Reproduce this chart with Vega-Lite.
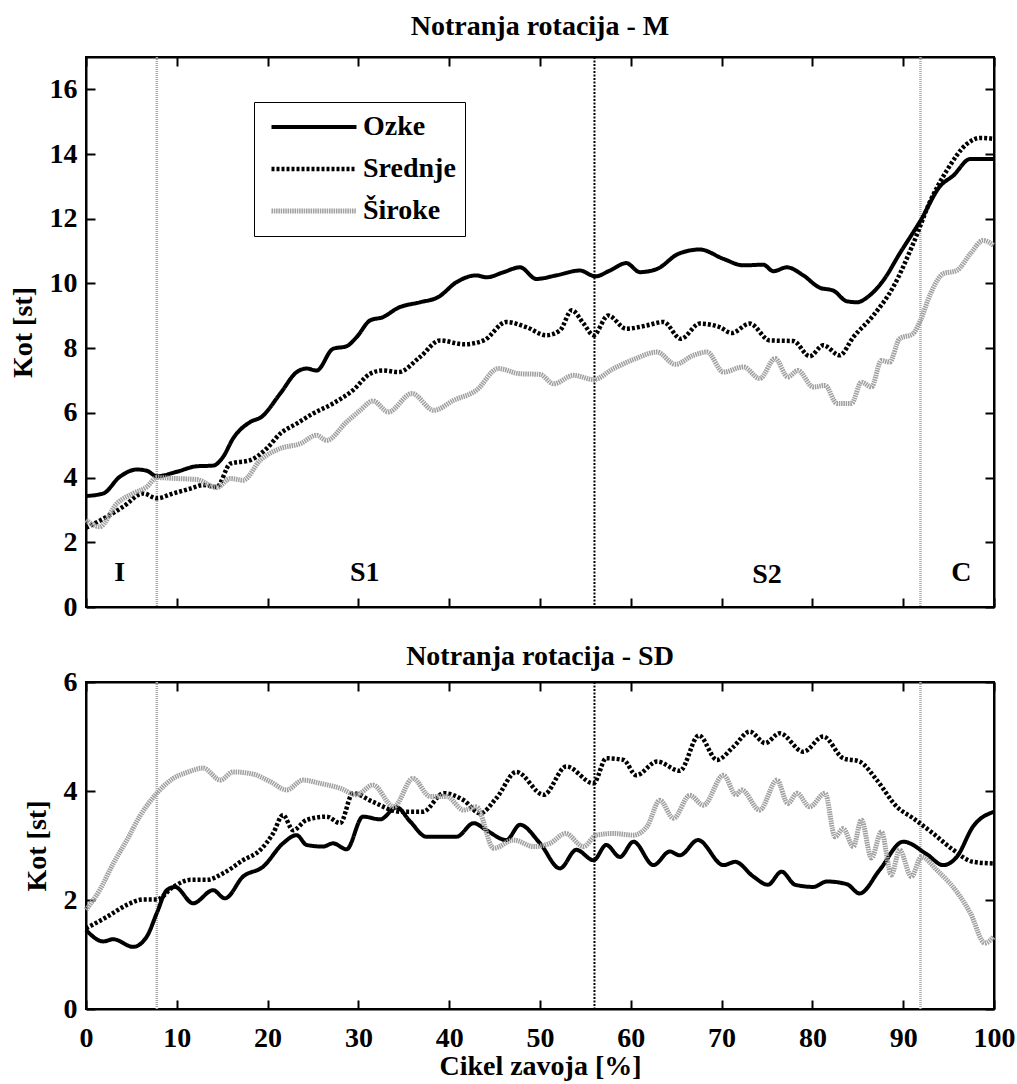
{
 "$schema": "https://vega.github.io/schema/vega-lite/v6.json",
 "background": "white",
 "padding": {"left": 8, "top": 11, "right": 5, "bottom": 5},
 "datasets": {
  "rulesGray": [{"x": 7.8}, {"x": 91.9}],
  "rulesBlack": [{"x": 56}],
  "labels": [{"t": "I", "x": 3.7, "y": 1.05}, {"t": "S1", "x": 30.7, "y": 1.05}, {"t": "S2", "x": 75, "y": 1.0}, {"t": "C", "x": 96.4, "y": 1.05}],
  "top": [
   {"s":"Ozke","x":0,"y":3.43},{"s":"Ozke","x":1.9,"y":3.51},{"s":"Ozke","x":3.7,"y":4.02},{"s":"Ozke","x":5.6,"y":4.25},{"s":"Ozke","x":6.7,"y":4.21},{"s":"Ozke","x":7.8,"y":4.04},{"s":"Ozke","x":10,"y":4.18},{"s":"Ozke","x":12.2,"y":4.35},{"s":"Ozke","x":14,"y":4.37},{"s":"Ozke","x":15.1,"y":4.64},{"s":"Ozke","x":16.2,"y":5.21},{"s":"Ozke","x":18.1,"y":5.72},{"s":"Ozke","x":19.3,"y":5.87},{"s":"Ozke","x":21.4,"y":6.6},{"s":"Ozke","x":23.2,"y":7.26},{"s":"Ozke","x":24.3,"y":7.37},{"s":"Ozke","x":25.4,"y":7.31},{"s":"Ozke","x":27.2,"y":7.98},{"s":"Ozke","x":28.7,"y":8.06},{"s":"Ozke","x":29.8,"y":8.34},{"s":"Ozke","x":31.3,"y":8.86},{"s":"Ozke","x":32.7,"y":8.96},{"s":"Ozke","x":34.4,"y":9.25},{"s":"Ozke","x":36.8,"y":9.42},{"s":"Ozke","x":38.8,"y":9.58},{"s":"Ozke","x":40.8,"y":10.04},{"s":"Ozke","x":43,"y":10.25},{"s":"Ozke","x":44.1,"y":10.19},{"s":"Ozke","x":46,"y":10.35},{"s":"Ozke","x":47.8,"y":10.5},{"s":"Ozke","x":49.6,"y":10.14},{"s":"Ozke","x":51.8,"y":10.25},{"s":"Ozke","x":54.4,"y":10.4},{"s":"Ozke","x":56.1,"y":10.22},{"s":"Ozke","x":57.7,"y":10.4},{"s":"Ozke","x":59.5,"y":10.63},{"s":"Ozke","x":61,"y":10.35},{"s":"Ozke","x":62.9,"y":10.45},{"s":"Ozke","x":65.2,"y":10.91},{"s":"Ozke","x":67.6,"y":11.05},{"s":"Ozke","x":70.2,"y":10.76},{"s":"Ozke","x":72.4,"y":10.56},{"s":"Ozke","x":74.6,"y":10.58},{"s":"Ozke","x":75.7,"y":10.38},{"s":"Ozke","x":77.2,"y":10.5},{"s":"Ozke","x":79,"y":10.25},{"s":"Ozke","x":80.8,"y":9.87},{"s":"Ozke","x":82.3,"y":9.78},{"s":"Ozke","x":83.8,"y":9.45},{"s":"Ozke","x":84.9,"y":9.42},{"s":"Ozke","x":86.3,"y":9.63},{"s":"Ozke","x":87.8,"y":10.09},{"s":"Ozke","x":89.6,"y":10.92},{"s":"Ozke","x":91.9,"y":11.94},{"s":"Ozke","x":94.1,"y":13.02},{"s":"Ozke","x":95.5,"y":13.33},{"s":"Ozke","x":97.4,"y":13.85},{"s":"Ozke","x":100,"y":13.85},
   {"s":"Srednje","x":0,"y":2.45},{"s":"Srednje","x":2.3,"y":2.79},{"s":"Srednje","x":4.1,"y":3.1},{"s":"Srednje","x":6.3,"y":3.51},{"s":"Srednje","x":7.8,"y":3.36},{"s":"Srednje","x":9.6,"y":3.51},{"s":"Srednje","x":11.5,"y":3.66},{"s":"Srednje","x":12.9,"y":3.77},{"s":"Srednje","x":14.4,"y":3.71},{"s":"Srednje","x":15.9,"y":4.43},{"s":"Srednje","x":18.1,"y":4.54},{"s":"Srednje","x":19.9,"y":4.9},{"s":"Srednje","x":21.4,"y":5.36},{"s":"Srednje","x":23.2,"y":5.67},{"s":"Srednje","x":25,"y":5.98},{"s":"Srednje","x":27.2,"y":6.29},{"s":"Srednje","x":29.4,"y":6.7},{"s":"Srednje","x":31.3,"y":7.21},{"s":"Srednje","x":32.7,"y":7.31},{"s":"Srednje","x":34.4,"y":7.26},{"s":"Srednje","x":36.8,"y":7.73},{"s":"Srednje","x":39,"y":8.24},{"s":"Srednje","x":41.6,"y":8.12},{"s":"Srednje","x":43.8,"y":8.24},{"s":"Srednje","x":46.3,"y":8.81},{"s":"Srednje","x":48.5,"y":8.65},{"s":"Srednje","x":50.7,"y":8.4},{"s":"Srednje","x":52.2,"y":8.55},{"s":"Srednje","x":53.5,"y":9.17},{"s":"Srednje","x":54.8,"y":8.76},{"s":"Srednje","x":55.9,"y":8.4},{"s":"Srednje","x":57.5,"y":9.01},{"s":"Srednje","x":59.5,"y":8.6},{"s":"Srednje","x":61.7,"y":8.7},{"s":"Srednje","x":63.6,"y":8.81},{"s":"Srednje","x":65.5,"y":8.29},{"s":"Srednje","x":67.6,"y":8.76},{"s":"Srednje","x":69.8,"y":8.65},{"s":"Srednje","x":71.1,"y":8.47},{"s":"Srednje","x":73.1,"y":8.76},{"s":"Srednje","x":75.3,"y":8.24},{"s":"Srednje","x":77.9,"y":8.22},{"s":"Srednje","x":79.7,"y":7.75},{"s":"Srednje","x":81.2,"y":8.09},{"s":"Srednje","x":83,"y":7.78},{"s":"Srednje","x":84.5,"y":8.34},{"s":"Srednje","x":86.7,"y":9.01},{"s":"Srednje","x":88.9,"y":9.89},{"s":"Srednje","x":91.1,"y":11.23},{"s":"Srednje","x":93,"y":12.56},{"s":"Srednje","x":94.8,"y":13.49},{"s":"Srednje","x":97,"y":14.31},{"s":"Srednje","x":98.5,"y":14.5},{"s":"Srednje","x":100,"y":14.47},
   {"s":"Široke","x":0,"y":2.69},{"s":"Široke","x":1.5,"y":2.48},{"s":"Široke","x":3.4,"y":3.2},{"s":"Široke","x":5.2,"y":3.51},{"s":"Široke","x":6.7,"y":3.71},{"s":"Široke","x":7.8,"y":4.0},{"s":"Široke","x":10,"y":3.97},{"s":"Široke","x":12.2,"y":3.94},{"s":"Široke","x":14.4,"y":3.69},{"s":"Široke","x":15.9,"y":3.97},{"s":"Široke","x":17.3,"y":3.92},{"s":"Široke","x":19.2,"y":4.54},{"s":"Široke","x":21.4,"y":4.9},{"s":"Široke","x":23.6,"y":5.05},{"s":"Široke","x":25.4,"y":5.31},{"s":"Široke","x":26.5,"y":5.15},{"s":"Široke","x":28.7,"y":5.72},{"s":"Široke","x":30.2,"y":6.08},{"s":"Široke","x":31.6,"y":6.37},{"s":"Široke","x":33.3,"y":6.03},{"s":"Široke","x":35.9,"y":6.6},{"s":"Široke","x":38.3,"y":6.08},{"s":"Široke","x":40.5,"y":6.39},{"s":"Široke","x":43,"y":6.7},{"s":"Široke","x":45.4,"y":7.37},{"s":"Široke","x":47.8,"y":7.21},{"s":"Široke","x":50,"y":7.19},{"s":"Široke","x":51.5,"y":6.9},{"s":"Široke","x":53.7,"y":7.16},{"s":"Široke","x":55.9,"y":7.03},{"s":"Široke","x":58.1,"y":7.37},{"s":"Široke","x":60.3,"y":7.65},{"s":"Široke","x":62.9,"y":7.88},{"s":"Široke","x":64.9,"y":7.5},{"s":"Široke","x":66.9,"y":7.78},{"s":"Široke","x":68.4,"y":7.88},{"s":"Široke","x":70.2,"y":7.26},{"s":"Široke","x":72.4,"y":7.42},{"s":"Široke","x":74.2,"y":7.06},{"s":"Široke","x":75.9,"y":7.68},{"s":"Široke","x":77.3,"y":7.11},{"s":"Široke","x":78.4,"y":7.31},{"s":"Široke","x":80.1,"y":6.8},{"s":"Široke","x":81.4,"y":6.85},{"s":"Široke","x":82.7,"y":6.29},{"s":"Široke","x":84.3,"y":6.29},{"s":"Široke","x":85.4,"y":6.95},{"s":"Široke","x":86.5,"y":6.8},{"s":"Široke","x":87.6,"y":7.62},{"s":"Široke","x":88.5,"y":7.57},{"s":"Široke","x":89.6,"y":8.29},{"s":"Široke","x":91.1,"y":8.45},{"s":"Široke","x":91.9,"y":8.86},{"s":"Široke","x":93,"y":9.68},{"s":"Široke","x":94.4,"y":10.3},{"s":"Široke","x":95.9,"y":10.4},{"s":"Široke","x":97.4,"y":10.92},{"s":"Široke","x":98.8,"y":11.33},{"s":"Široke","x":100,"y":11.17}
  ],
  "bot": [
   {"s":"Ozke","x":0,"y":1.45},{"s":"Ozke","x":1.9,"y":1.24},{"s":"Ozke","x":3,"y":1.28},{"s":"Ozke","x":5.2,"y":1.14},{"s":"Ozke","x":6.7,"y":1.33},{"s":"Ozke","x":7.8,"y":1.76},{"s":"Ozke","x":8.9,"y":2.18},{"s":"Ozke","x":9.8,"y":2.24},{"s":"Ozke","x":11.8,"y":1.94},{"s":"Ozke","x":14,"y":2.18},{"s":"Ozke","x":15.3,"y":2.03},{"s":"Ozke","x":17.3,"y":2.43},{"s":"Ozke","x":19.5,"y":2.61},{"s":"Ozke","x":21.7,"y":3.04},{"s":"Ozke","x":23.2,"y":3.19},{"s":"Ozke","x":24.3,"y":3.01},{"s":"Ozke","x":26.1,"y":2.98},{"s":"Ozke","x":27.2,"y":3.04},{"s":"Ozke","x":28.7,"y":2.93},{"s":"Ozke","x":30.5,"y":3.53},{"s":"Ozke","x":32.4,"y":3.48},{"s":"Ozke","x":34.2,"y":3.7},{"s":"Ozke","x":35.7,"y":3.44},{"s":"Ozke","x":37.5,"y":3.16},{"s":"Ozke","x":40.8,"y":3.16},{"s":"Ozke","x":42.7,"y":3.41},{"s":"Ozke","x":44.1,"y":3.28},{"s":"Ozke","x":46.3,"y":3.1},{"s":"Ozke","x":47.8,"y":3.38},{"s":"Ozke","x":50,"y":3.04},{"s":"Ozke","x":52.2,"y":2.58},{"s":"Ozke","x":54,"y":2.92},{"s":"Ozke","x":55.9,"y":2.73},{"s":"Ozke","x":57.3,"y":3.01},{"s":"Ozke","x":58.8,"y":2.79},{"s":"Ozke","x":60.3,"y":3.07},{"s":"Ozke","x":62.5,"y":2.64},{"s":"Ozke","x":64.3,"y":2.89},{"s":"Ozke","x":65.4,"y":2.82},{"s":"Ozke","x":67.4,"y":3.1},{"s":"Ozke","x":70.2,"y":2.64},{"s":"Ozke","x":71.5,"y":2.7},{"s":"Ozke","x":73.5,"y":2.43},{"s":"Ozke","x":75.1,"y":2.28},{"s":"Ozke","x":76.6,"y":2.52},{"s":"Ozke","x":78.1,"y":2.28},{"s":"Ozke","x":80.1,"y":2.24},{"s":"Ozke","x":81.6,"y":2.34},{"s":"Ozke","x":83.8,"y":2.29},{"s":"Ozke","x":85.2,"y":2.12},{"s":"Ozke","x":87.4,"y":2.55},{"s":"Ozke","x":90,"y":3.07},{"s":"Ozke","x":92.6,"y":2.84},{"s":"Ozke","x":94.4,"y":2.64},{"s":"Ozke","x":95.9,"y":2.79},{"s":"Ozke","x":97.7,"y":3.35},{"s":"Ozke","x":100,"y":3.62},
   {"s":"Srednje","x":0,"y":1.48},{"s":"Srednje","x":2.3,"y":1.69},{"s":"Srednje","x":4.5,"y":1.91},{"s":"Srednje","x":6.3,"y":2.01},{"s":"Srednje","x":7.8,"y":2.01},{"s":"Srednje","x":9.6,"y":2.24},{"s":"Srednje","x":11.5,"y":2.37},{"s":"Srednje","x":13.3,"y":2.37},{"s":"Srednje","x":15.1,"y":2.49},{"s":"Srednje","x":17.3,"y":2.73},{"s":"Srednje","x":19.2,"y":2.92},{"s":"Srednje","x":20.6,"y":3.22},{"s":"Srednje","x":21.7,"y":3.56},{"s":"Srednje","x":22.8,"y":3.28},{"s":"Srednje","x":24.3,"y":3.47},{"s":"Srednje","x":26.5,"y":3.53},{"s":"Srednje","x":28,"y":3.41},{"s":"Srednje","x":29.4,"y":3.96},{"s":"Srednje","x":31.6,"y":3.8},{"s":"Srednje","x":34.6,"y":3.62},{"s":"Srednje","x":37.1,"y":3.62},{"s":"Srednje","x":39.4,"y":3.96},{"s":"Srednje","x":41.6,"y":3.83},{"s":"Srednje","x":43.4,"y":3.59},{"s":"Srednje","x":45.2,"y":3.87},{"s":"Srednje","x":47.4,"y":4.35},{"s":"Srednje","x":50.4,"y":3.93},{"s":"Srednje","x":52.9,"y":4.45},{"s":"Srednje","x":55.9,"y":4.14},{"s":"Srednje","x":57.3,"y":4.6},{"s":"Srednje","x":59.2,"y":4.57},{"s":"Srednje","x":60.6,"y":4.29},{"s":"Srednje","x":62.9,"y":4.54},{"s":"Srednje","x":65.4,"y":4.37},{"s":"Srednje","x":67.5,"y":5.02},{"s":"Srednje","x":69.5,"y":4.57},{"s":"Srednje","x":71.3,"y":4.81},{"s":"Srednje","x":73.1,"y":5.09},{"s":"Srednje","x":74.8,"y":4.88},{"s":"Srednje","x":76.4,"y":5.06},{"s":"Srednje","x":79,"y":4.72},{"s":"Srednje","x":81.2,"y":5.0},{"s":"Srednje","x":83.4,"y":4.6},{"s":"Srednje","x":85.2,"y":4.54},{"s":"Srednje","x":87.1,"y":4.2},{"s":"Srednje","x":89.3,"y":3.71},{"s":"Srednje","x":91.1,"y":3.5},{"s":"Srednje","x":93.3,"y":3.22},{"s":"Srednje","x":95.5,"y":2.92},{"s":"Srednje","x":97.7,"y":2.7},{"s":"Srednje","x":100,"y":2.67},
   {"s":"Široke","x":0,"y":1.82},{"s":"Široke","x":1.5,"y":2.18},{"s":"Široke","x":3,"y":2.67},{"s":"Široke","x":4.5,"y":3.1},{"s":"Široke","x":5.9,"y":3.53},{"s":"Široke","x":7.8,"y":3.96},{"s":"Široke","x":9.6,"y":4.23},{"s":"Široke","x":11.1,"y":4.34},{"s":"Široke","x":12.9,"y":4.42},{"s":"Široke","x":14.8,"y":4.2},{"s":"Široke","x":16.2,"y":4.35},{"s":"Široke","x":18.4,"y":4.31},{"s":"Široke","x":20.3,"y":4.17},{"s":"Široke","x":22.1,"y":4.02},{"s":"Široke","x":23.9,"y":4.2},{"s":"Široke","x":25.8,"y":4.14},{"s":"Široke","x":28,"y":4.05},{"s":"Široke","x":29.8,"y":3.93},{"s":"Široke","x":31.6,"y":4.11},{"s":"Široke","x":33.9,"y":3.71},{"s":"Široke","x":36,"y":4.23},{"s":"Široke","x":37.9,"y":3.9},{"s":"Široke","x":39.7,"y":3.9},{"s":"Široke","x":41.6,"y":3.65},{"s":"Široke","x":43,"y":3.71},{"s":"Široke","x":44.9,"y":2.95},{"s":"Široke","x":47.1,"y":3.1},{"s":"Široke","x":49.3,"y":2.98},{"s":"Široke","x":51.1,"y":3.04},{"s":"Široke","x":52.8,"y":3.22},{"s":"Široke","x":54.8,"y":2.98},{"s":"Široke","x":56.2,"y":3.19},{"s":"Široke","x":58.1,"y":3.22},{"s":"Široke","x":60.3,"y":3.19},{"s":"Široke","x":61.8,"y":3.35},{"s":"Široke","x":63.2,"y":3.83},{"s":"Široke","x":64.7,"y":3.5},{"s":"Široke","x":66.5,"y":3.92},{"s":"Široke","x":68,"y":3.74},{"s":"Široke","x":70.2,"y":4.29},{"s":"Široke","x":71.6,"y":3.93},{"s":"Široke","x":72.2,"y":4.02},{"s":"Široke","x":74.2,"y":3.65},{"s":"Široke","x":76.1,"y":4.2},{"s":"Široke","x":77.3,"y":3.77},{"s":"Široke","x":78.3,"y":3.96},{"s":"Široke","x":79.7,"y":3.71},{"s":"Široke","x":81.4,"y":3.96},{"s":"Široke","x":82.5,"y":3.16},{"s":"Široke","x":83.4,"y":3.31},{"s":"Široke","x":84.5,"y":2.98},{"s":"Široke","x":85.4,"y":3.47},{"s":"Široke","x":86.5,"y":2.77},{"s":"Široke","x":87.6,"y":3.25},{"s":"Široke","x":88.7,"y":2.46},{"s":"Široke","x":89.6,"y":2.92},{"s":"Široke","x":90.9,"y":2.43},{"s":"Široke","x":92,"y":2.79},{"s":"Široke","x":93.7,"y":2.55},{"s":"Široke","x":95.9,"y":2.15},{"s":"Široke","x":97.4,"y":1.76},{"s":"Široke","x":99,"y":1.21},{"s":"Široke","x":100,"y":1.33}
  ]
 },
 "spacing": 75,
 "bounds": "flush",
 "resolve": {
  "scale": {"color": "independent", "strokeDash": "independent", "strokeWidth": "independent"},
  "legend": {"color": "independent", "strokeDash": "independent", "strokeWidth": "independent"}
 },
 "vconcat": [
  {
   "width": 908,
   "height": 550,
   "title": {"text": "Notranja rotacija - M", "offset": 15},
   "resolve": {"axis": {"x": "independent", "y": "independent"}},
   "layer": [
    {
     "data": {"name": "rulesGray"},
     "mark": {"type": "rule", "color": "#a8a8a8", "strokeWidth": 2.5, "strokeDash": [1, 1]},
     "encoding": {
      "x": {"field": "x", "type": "quantitative", "scale": {"domain": [0, 100], "nice": false, "zero": false},
            "axis": {"orient": "top", "labels": false, "title": null, "values": [0,10,20,30,40,50,60,70,80,90,100]}}
     }
    },
    {
     "data": {"name": "rulesBlack"},
     "mark": {"type": "rule", "color": "#000000", "strokeWidth": 2, "strokeDash": [2, 1.5]},
     "encoding": {"x": {"field": "x", "type": "quantitative", "axis": null}}
    },
    {
     "data": {"name": "top"},
     "mark": {"type": "line", "interpolate": "monotone"},
     "encoding": {
      "x": {"field": "x", "type": "quantitative", "scale": {"domain": [0, 100], "nice": false, "zero": false},
            "axis": {"orient": "bottom", "labels": false, "title": null, "values": [0,10,20,30,40,50,60,70,80,90,100]}},
      "y": {"field": "y", "type": "quantitative", "scale": {"domain": [0, 17], "nice": false},
            "axis": {"orient": "left", "values": [0,2,4,6,8,10,12,14,16], "title": "Kot [st]", "labelPadding": 18, "titlePadding": 12}},
      "color": {"field": "s", "type": "nominal", "scale": {"domain": ["Ozke", "Srednje", "Široke"], "range": ["#000000", "#000000", "#a0a0a0"]}, "legend": {"title": null}},
      "strokeDash": {"field": "s", "type": "nominal", "scale": {"domain": ["Ozke", "Srednje", "Široke"], "range": [[1, 0], [3, 2], [1.5, 0.8]]}, "legend": {"title": null}},
      "strokeWidth": {"field": "s", "type": "nominal", "scale": {"domain": ["Ozke", "Srednje", "Široke"], "range": [4, 5, 5]}, "legend": {"title": null}}
     }
    },
    {
     "data": {"name": "labels"},
     "mark": {"type": "text", "font": "Liberation Serif", "fontSize": 28, "fontWeight": "bold", "baseline": "middle", "align": "center", "color": "#000000"},
     "encoding": {
      "x": {"field": "x", "type": "quantitative", "axis": null},
      "y": {"field": "y", "type": "quantitative", "axis": {"orient": "right", "labels": false, "title": null, "values": [0,2,4,6,8,10,12,14,16]}},
      "text": {"field": "t"}
     }
    }
   ]
  },
  {
   "width": 908,
   "height": 327,
   "title": {"text": "Notranja rotacija - SD", "offset": -3},
   "resolve": {"axis": {"x": "independent", "y": "independent"}},
   "layer": [
    {
     "data": {"name": "rulesGray"},
     "mark": {"type": "rule", "color": "#a8a8a8", "strokeWidth": 2.5, "strokeDash": [1, 1]},
     "encoding": {
      "x": {"field": "x", "type": "quantitative", "scale": {"domain": [0, 100], "nice": false, "zero": false},
            "axis": {"orient": "top", "labels": false, "title": null, "values": [0,10,20,30,40,50,60,70,80,90,100]}}
     }
    },
    {
     "data": {"name": "rulesBlack"},
     "mark": {"type": "rule", "color": "#000000", "strokeWidth": 2, "strokeDash": [2, 1.5]},
     "encoding": {"x": {"field": "x", "type": "quantitative", "axis": null}}
    },
    {
     "data": {"name": "bot"},
     "mark": {"type": "line", "interpolate": "monotone"},
     "encoding": {
      "x": {"field": "x", "type": "quantitative", "scale": {"domain": [0, 100], "nice": false, "zero": false},
            "axis": {"orient": "bottom", "values": [0,10,20,30,40,50,60,70,80,90,100], "title": "Cikel zavoja [%]", "labelPadding": 24, "titlePadding": 0}},
      "y": {"field": "y", "type": "quantitative", "scale": {"domain": [0, 6], "nice": false},
            "axis": {"orient": "left", "values": [0,2,4,6], "title": "Kot [st]", "labelPadding": 18, "titlePadding": 12}},
      "color": {"field": "s", "type": "nominal", "scale": {"domain": ["Ozke", "Srednje", "Široke"], "range": ["#000000", "#000000", "#a0a0a0"]}, "legend": null},
      "strokeDash": {"field": "s", "type": "nominal", "scale": {"domain": ["Ozke", "Srednje", "Široke"], "range": [[1, 0], [3, 2], [1.5, 0.8]]}, "legend": null},
      "strokeWidth": {"field": "s", "type": "nominal", "scale": {"domain": ["Ozke", "Srednje", "Široke"], "range": [4, 5, 5]}, "legend": null}
     }
    },
    {
     "data": {"name": "bot"},
     "mark": {"type": "point", "opacity": 0},
     "encoding": {
      "x": {"field": "x", "type": "quantitative", "axis": null},
      "y": {"field": "y", "type": "quantitative", "axis": {"orient": "right", "labels": false, "title": null, "values": [0,2,4,6]}}
     }
    }
   ]
  }
 ],
 "config": {
  "view": {"stroke": "#000000", "strokeWidth": 2},
  "title": {"font": "Liberation Serif", "fontSize": 28, "fontWeight": "bold", "color": "#000000", "anchor": "middle", "frame": "group", "baseline": "alphabetic"},
  "axis": {
   "labelFont": "Liberation Serif", "labelFontSize": 28, "labelFontWeight": "bold", "labelColor": "#000000",
   "titleFont": "Liberation Serif", "titleFontSize": 28, "titleFontWeight": "bold", "titleColor": "#000000",
   "domainColor": "#000000", "domainWidth": 2, "tickColor": "#000000", "tickWidth": 2, "tickSize": -9,
   "grid": false, "labelFlush": false, "labelOverlap": false
  },
  "legend": {
   "orient": "none", "legendX": 168, "legendY": 45,
   "labelFont": "Liberation Serif", "labelFontSize": 28, "labelFontWeight": "bold", "labelColor": "#000000",
   "symbolType": "stroke", "symbolSize": 7225, "clipHeight": 32, "rowPadding": 10, "padding": 9,
   "symbolOffset": 6, "labelOffset": 4, "strokeColor": "#000000", "fillColor": "#ffffff"
  }
 }
}
